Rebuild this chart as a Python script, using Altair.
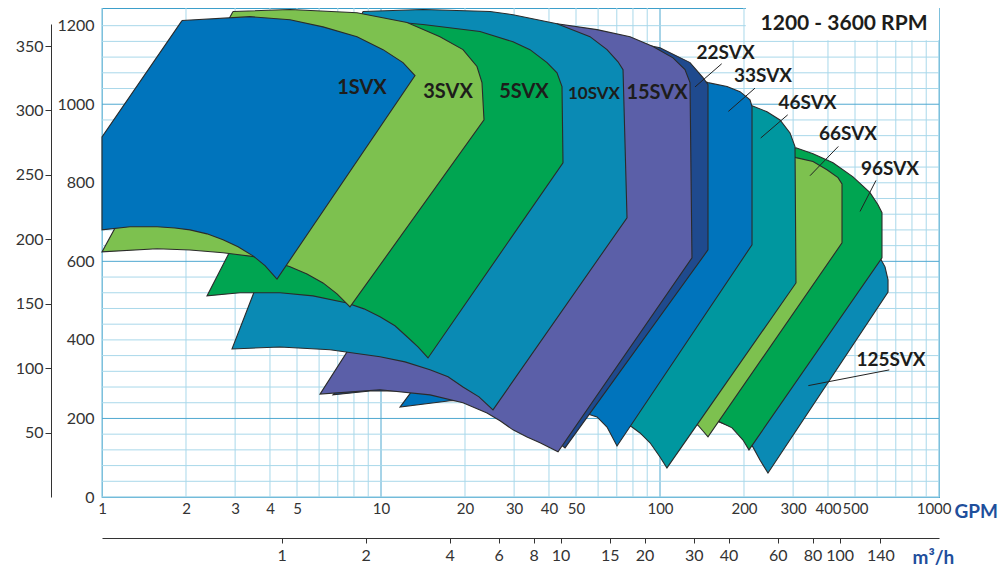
import altair as alt
import pandas as pd

# ---------------- axis tick values ----------------
GPM_TICKS = [1, 2, 3, 4, 5, 10, 20, 30, 40, 50, 100, 200, 300, 400, 500, 1000]
M3H_TICKS = [1, 2, 4, 6, 8, 10, 15, 20, 30, 40, 60, 80, 100, 140]
FT_TICKS = [0, 200, 400, 600, 800, 1000, 1200]
M_TICKS = [50, 100, 150, 200, 250, 300, 350]

GRID_GPM = [1, 2, 3, 4, 5, 6, 7, 8, 9, 10, 20, 30, 40, 50, 60, 70, 80, 90,
            100, 200, 300, 400, 500, 600, 700, 800, 900, 1000]
GRID_FT = [0, 40, 80, 120, 160, 200, 240, 280, 320, 360, 400, 440, 480, 520, 560,
           600, 640, 680, 720, 760, 800, 840, 880, 920, 960, 1000, 1040, 1080,
           1120, 1160, 1200]
GRID_GPM_MAJOR = [10, 100]
GRID_FT_MAJOR = [200, 600, 1000]

# ---------------- pump envelopes (GPM, feet) ----------------
S1 = [(1.935, 1213), (3.392, 1223), (4.719, 1215), (6.196, 1197), (8.204, 1172),
      (10.17, 1139), (11.99, 1106), (13.24, 1073), (4.239, 555), (3.839, 589),
      (3.477, 614), (3.073, 637), (2.715, 655), (2.379, 670), (2.067, 680),
      (1.827, 685), (1.575, 688), (1.260, 688), (1.0, 680), (1.0, 917)]
S3 = [(2.948, 1236), (4.719, 1241), (8.204, 1233), (12.40, 1208), (16.27, 1172),
      (19.67, 1139), (22.08, 1096), (23.01, 1055), (23.40, 960), (7.743, 484),
      (6.957, 517), (6.196, 545), (5.429, 568), (4.719, 586), (4.102, 601),
      (3.594, 611), (2.715, 622), (2.067, 629), (1.575, 632), (1.0, 624)]
S5 = [(7.743, 1220), (14.14, 1203), (22.63, 1185), (29.72, 1159), (34.20, 1139),
      (39.36, 1106), (42.74, 1080), (44.54, 1045), (44.91, 851), (14.74, 354),
      (13.57, 382), (12.40, 408), (11.22, 436), (9.918, 459), (8.689, 479),
      (7.553, 494), (5.705, 512), (4.345, 520), (3.124, 520), (2.379, 512)]
S10 = [(8.618, 1236), (14.14, 1241), (24.59, 1236), (29.72, 1228), (42.74, 1205),
       (56.12, 1172), (64.57, 1139), (70.72, 1108), (73.70, 1088), (76.17, 711),
       (25.20, 222), (22.45, 255), (19.67, 280), (17.39, 306), (14.98, 324),
       (12.19, 344), (9.918, 357), (6.566, 375), (4.345, 382), (2.924, 377)]
S15 = [(42.74, 1205), (59.46, 1190), (78.09, 1172), (94.39, 1147), (111.3, 1118),
       (122.9, 1088), (128.1, 1055), (130.2, 609), (43.10, 115), (37.15, 138),
       (33.37, 153), (29.72, 171), (26.71, 194), (23.99, 214), (19.67, 240),
       (14.98, 260), (9.918, 273), (6.045, 262)]
S22 = [(78.09, 1159), (100, 1144), (128.1, 1106), (142.6, 1068), (148.6, 1050),
       (148.6, 629), (45.66, 125), (37.15, 176), (29.0, 222), (20.84, 255),
       (13.80, 270), (9.134, 270), (6.729, 260)]
S33 = [(92.1, 1088), (128.1, 1068), (148.6, 1055), (173.9, 1045), (193.5, 1032),
       (210.2, 1011), (213.7, 994), (213.7, 642), (70.14, 130), (64.57, 178),
       (59.46, 204), (43.82, 234), (26.71, 247), (17.67, 245), (11.70, 229)]
S46 = [(139.1, 1032), (213.7, 996), (241.8, 981), (269.2, 960), (292.4, 927),
       (304.7, 892), (307.2, 545), (105.9, 74), (100, 102), (92.1, 138),
       (84.79, 163), (79.36, 178), (60.95, 214), (37.15, 242), (20.84, 252), (12.19, 237)]
S66 = [(248.0, 884), (307.2, 864), (353.5, 854), (396.7, 833), (434.5, 813),
       (449.1, 797), (449.1, 647), (148.6, 153), (142.6, 168), (136.8, 183),
       (100, 222), (60.95, 242), (26.71, 260)]
S96 = [(292.4, 884), (307.2, 889), (353.5, 874), (417.0, 851), (491.8, 815),
       (565.8, 775), (604.4, 744), (624.7, 724), (624.7, 609), (208.4, 120),
       (198.4, 145), (181.2, 176), (164.1, 191), (139.1, 227), (92.1, 247), (40.34, 260)]
S125 = [(344.9, 820), (479.8, 744), (565.8, 668), (614.4, 609), (640.5, 586),
        (656.6, 553), (656.6, 522), (243.8, 61), (228.2, 94), (215.4, 127),
        (193.5, 171), (139.1, 209), (60.95, 234)]

# back to front
SHAPES = [("125SVX", S125, "#0A8AB4"), ("96SVX", S96, "#00A551"),
          ("66SVX", S66, "#7DC14F"), ("46SVX", S46, "#00979F"),
          ("33SVX", S33, "#0074BC"), ("22SVX", S22, "#1F4A8E"),
          ("15SVX", S15, "#5B5FA8"), ("10SVX", S10, "#0A8AB4"),
          ("5SVX", S5, "#00A551"), ("3SVX", S3, "#7DC14F"),
          ("1SVX", S1, "#0074BC")]

# ---------------- labels ----------------
LABELS = ["1SVX", "3SVX", "5SVX", "10SVX", "15SVX", "22SVX", "33SVX",
          "46SVX", "66SVX", "96SVX", "125SVX"]
LABEL_GPM = [8.547, 17.39, 32.55, 57.99, 97.56, 171.8, 234.0, 337.9, 471.9, 667.5, 672.9]
LABEL_FT = [1042, 1032, 1032, 1027, 1029, 1130, 1071, 1002, 924, 834, 350]
LABEL_SIZE = [20, 20, 20, 17, 20, 19, 19, 19, 19, 19, 19]

LEAD_X1 = [166.4, 219.0, 286.9, 435.6, 594.5, 663.6]
LEAD_Y1 = [1103, 1041, 973, 892.5, 806, 323.6]
LEAD_X2 = [133.5, 175.8, 229.6, 344.9, 521.1, 340.1]
LEAD_Y2 = [1044, 981.7, 914, 818, 727, 283.6]

RPM_TEXT = "1200 - 3600 RPM"
RPM_GPM = 456.6
RPM_FT = 1204

BOX_X = [203, 1000]
BOX_Y = [1163, 1245]

GPM_PER_M3H = 4.40287

W, H = 837, 489
FONT = "Lato"
TXT = "#333333"
TITLE_BLUE = "#1F4F9C"

XS = alt.Scale(type="log", domain=[1, 1000])
YS = alt.Scale(domain=[0, 1245])

X_AXIS = alt.Axis(
    values=GPM_TICKS, format="d", grid=False, domain=False, ticks=False, tickSize=0,
    labelPadding=4, labelFont=FONT, labelFontSize=15, labelColor=TXT,
    labelFlush=False, labelOverlap=False,
    labelAlign={"condition": {"test": "datum.value >= 1000", "value": "right"}, "value": "center"},
    labelOffset={"condition": {"test": "datum.value >= 1000", "value": 12}, "value": 0},
    title="GPM", titleFont=FONT, titleFontSize=19, titleFontWeight="bold",
    titleColor=TITLE_BLUE, titleX=852, titleY=20, titleAlign="left",
    titleBaseline="alphabetic")
Y_AXIS = alt.Axis(
    values=FT_TICKS, format="d", grid=False, domain=False, ticks=False, tickSize=0,
    labelPadding=8, labelFont=FONT, labelFontSize=16, labelColor=TXT,
    labelOverlap=False, title=None, orient="left")


def X(f):
    return alt.X(f, type="quantitative", scale=XS, axis=X_AXIS)


def Y(f):
    return alt.Y(f, type="quantitative", scale=YS, axis=Y_AXIS)


# grid
vg = pd.DataFrame({"g": GRID_GPM,
                   "k": ["major" if v in GRID_GPM_MAJOR else "minor" for v in GRID_GPM]})
hg = pd.DataFrame({"f": GRID_FT,
                   "k": ["major" if v in GRID_FT_MAJOR else "minor" for v in GRID_FT]})
gcol = alt.Scale(domain=["major", "minor"], range=["#4FA8D0", "#A9D8EA"])
vgrid = alt.Chart(vg).mark_rule(strokeWidth=1).encode(
    x=X("g"), color=alt.Color("k:N", scale=gcol, legend=None))
hgrid = alt.Chart(hg).mark_rule(strokeWidth=1).encode(
    y=Y("f"), color=alt.Color("k:N", scale=gcol, legend=None))

box = alt.Chart(pd.DataFrame({"x1": [BOX_X[0]], "x2": [BOX_X[1]],
                              "y1": [BOX_Y[0]], "y2": [BOX_Y[1]]})).mark_rect(
    fill="white").encode(x=X("x1"), x2="x2", y=Y("y1"), y2="y2")

layers = [vgrid, hgrid, box]
for name, pts, col in SHAPES:
    closed = pts + [pts[0]]
    df = pd.DataFrame({"gpm": [p[0] for p in closed],
                       "ft": [p[1] for p in closed],
                       "i": list(range(len(closed)))})
    layers.append(alt.Chart(df).mark_line(
        fill=col, stroke="#2B2B2B", strokeWidth=1.1, strokeJoin="miter").encode(
        x=X("gpm"), y=Y("ft"), order="i:Q"))

lead = pd.DataFrame({"x1": LEAD_X1, "x2": LEAD_X2, "y1": LEAD_Y1, "y2": LEAD_Y2})
layers.append(alt.Chart(lead).mark_rule(stroke="#222222", strokeWidth=1).encode(
    x=X("x1"), x2="x2", y=Y("y1"), y2="y2"))

lab = pd.DataFrame({"t": LABELS, "g": LABEL_GPM, "f": LABEL_FT, "s": LABEL_SIZE})
layers.append(alt.Chart(lab).mark_text(
    font=FONT, fontWeight="bold", color="#1D1D1B", align="center", baseline="middle").encode(
    x=X("g"), y=Y("f"), text="t:N", size=alt.Size("s:Q", scale=None)))

rpm = pd.DataFrame({"t": [RPM_TEXT], "g": [RPM_GPM], "f": [RPM_FT]})
layers.append(alt.Chart(rpm).mark_text(
    font=FONT, fontWeight="bold", fontSize=21, color="#1D1D1B", align="center",
    baseline="middle").encode(x=X("g"), y=Y("f"), text="t:N"))

inner = alt.layer(*layers)

meter = alt.Chart(pd.DataFrame({"m": M_TICKS})).mark_point(opacity=0).encode(
    y=alt.Y("m:Q", scale=alt.Scale(domain=[0, 367.1], range=[H, 16]),
            axis=alt.Axis(orient="left", offset=51, values=M_TICKS, grid=False,
                          domainColor=TXT, domainWidth=1, tickColor=TXT, tickSize=6,
                          labelPadding=2, labelFont=FONT, labelFontSize=16,
                          labelColor=TXT, labelOverlap=False, title=None)))

m3h = alt.Chart(pd.DataFrame({"q": M3H_TICKS})).mark_point(opacity=0).encode(
    x=alt.X("q:Q", scale=alt.Scale(type="log", domain=[1 / GPM_PER_M3H, 1000 / GPM_PER_M3H]),
            axis=alt.Axis(orient="bottom", offset=41, values=M3H_TICKS, format="d",
                          grid=False, domainColor=TXT, domainWidth=1.2, tickColor=TXT,
                          tickSize=5, labelPadding=4, labelFont=FONT, labelFontSize=16,
                          labelColor=TXT, labelFlush=False, labelOverlap=False,
                          title="m³/h", titleFont=FONT, titleFontSize=19,
                          titleFontWeight="bold", titleColor=TITLE_BLUE, titleX=810,
                          titleY=25, titleAlign="left", titleBaseline="alphabetic")))

chart = alt.layer(inner, meter, m3h).resolve_scale(
    x="independent", y="independent").properties(
    width=W, height=H,
    padding={"left": 94, "top": 0, "right": 60, "bottom": 70},
    autosize=alt.AutoSizeParams(type="none")).configure_view(
    stroke="#3D9FCA", strokeWidth=1.2)

chart.save("out.html", embed_options={"renderer": "svg", "actions": False})
